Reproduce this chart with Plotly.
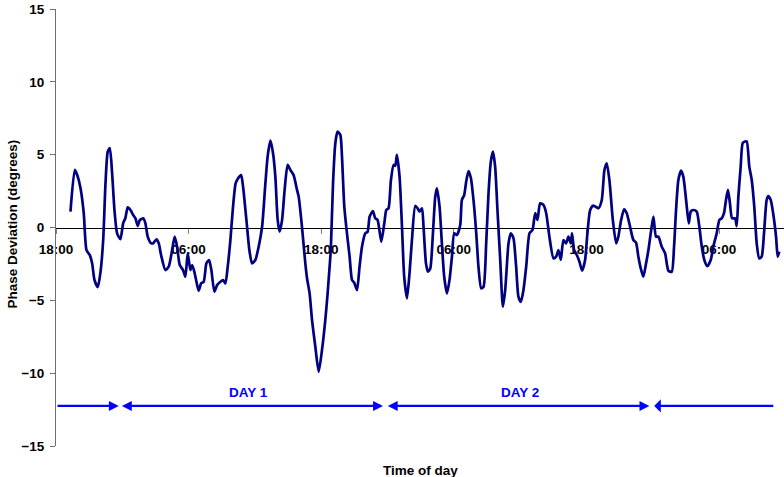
import plotly.graph_objects as go

# Hours elapsed since 18:00 on the evening before day 1
hours = [
    1.31, 1.70, 1.92, 2.22, 2.51, 2.76, 3.06, 3.27, 3.48, 3.78, 4.02, 4.27, 4.48, 4.68, 4.87,
    5.08, 5.29, 5.53, 5.83, 6.08, 6.28, 6.49, 6.74, 6.98, 7.19, 7.40, 7.58, 7.89, 8.09, 8.30,
    8.55, 8.79, 9.09, 9.30, 9.51, 9.90, 10.20, 10.51, 10.74, 10.96, 11.20, 11.50, 11.71, 11.92,
    12.16, 12.32, 12.52, 12.71, 12.91, 13.13, 13.37, 13.61, 13.85, 14.06, 14.33, 14.58, 14.88,
    15.12, 15.33, 15.54, 15.78, 16.02, 16.26, 16.48, 16.75, 16.93, 17.23, 17.50, 17.74, 18.04,
    18.34, 18.65, 18.95, 19.15, 19.40, 19.64, 19.85, 20.06, 20.24, 20.46, 20.69, 20.96, 21.21,
    21.50, 21.81, 21.96, 22.26, 22.56, 22.72, 22.95, 23.17, 23.47, 23.77, 24.07, 24.37, 24.58,
    24.76, 24.87, 25.07, 25.28, 25.48, 25.73, 25.88, 26.09, 26.33, 26.57, 26.79, 26.99, 27.24,
    27.47, 27.69, 27.99, 28.20, 28.38, 28.68, 28.89, 29.10, 29.44, 29.71, 29.89, 30.09, 30.31,
    30.55, 30.70, 30.85, 31.09, 31.31, 31.51, 31.76, 31.99, 32.21, 32.51, 32.72, 32.90, 33.12,
    33.26, 33.48, 33.66, 33.87, 34.11, 34.32, 34.47, 34.71, 34.92, 35.13, 35.38, 35.61, 35.83,
    36.04, 36.28, 36.58, 36.73, 36.94, 37.12, 37.33, 37.55, 37.78, 38.03, 38.23, 38.48, 38.69,
    38.93, 39.14, 39.35, 39.54, 39.74, 39.95, 40.20, 40.44, 40.65, 40.95, 41.16, 41.40, 41.64,
    41.85, 42.07, 42.30, 42.55, 42.85, 43.12, 43.36, 43.57, 43.81, 44.11, 44.36, 44.65, 45.02,
    45.26, 45.47, 45.68, 45.92, 46.16, 46.37, 46.59, 46.70, 46.89, 47.13, 47.37, 47.61, 47.88,
    48.09, 48.34, 48.63, 49.09, 49.39, 49.63, 49.84, 50.08, 50.39, 50.69, 50.89, 51.14, 51.41,
    51.65, 51.95, 52.25, 52.49, 52.70, 52.92, 53.15, 53.40, 53.61, 53.82, 54.06, 54.30, 54.51,
    54.82, 55.12, 55.42, 55.72, 55.93, 56.11, 56.32, 56.56, 56.77, 57.02, 57.26, 57.44, 57.68,
    57.98, 58.22, 58.44, 58.67, 58.94, 59.25, 59.48, 59.79, 60.03, 60.24, 60.45, 60.63, 60.81,
    60.99, 61.18, 61.45, 61.60, 61.75, 61.96, 62.14, 62.35, 62.51, 62.74, 62.96, 63.19, 63.41,
    63.64, 63.86, 64.07, 64.31, 64.46, 64.68, 64.92, 65.16, 65.31, 65.45,
]

# Phase deviation in degrees
phase_deg = [
    1.09, 3.95, 3.60, 2.70, 1.00, -1.55, -1.90, -2.45, -3.60, -4.10, -3.10, -0.86, 3.05, 5.20, 5.45,
    3.70, 1.20, -0.40, -0.80, 0.30, 0.65, 1.39, 1.20, 0.86, 0.63, 0.10, 0.50, 0.63, 0.29, -0.63,
    -1.04, -1.09, -0.81, -1.09, -1.89, -2.92, -2.69, -1.55, -0.63, -1.32, -2.58, -2.92, -3.38, -1.77,
    -2.92, -2.58, -3.04, -3.72, -4.34, -3.84, -3.72, -2.46, -2.23, -2.92, -4.41, -3.95, -3.72,
    -3.61, -3.84, -2.69, -0.86, 1.43, 3.04, 3.38, 3.60, 2.80, 0.52, -1.55, -2.46, -2.23,
    -1.32, 0.05, 3.04, 4.87, 5.97, 5.10, 3.49, 0.52, -0.29, 0.52, 2.58, 4.30, 3.95,
    3.60, 2.58, 2.12, 0.05, -2.45, -3.50, -4.52, -6.36, -8.19, -9.91, -8.42, -6.36, -4.52,
    -2.69, -1.50, 3.04, 5.79, 6.58, 6.36, 4.87, 1.43, -0.40, -2.00, -3.61, -3.79, -4.30,
    -2.69, -1.32, -0.40, -0.29, 0.74, 1.13, 0.63, 0.52, -0.98, 0.29, 1.20, 1.32, 3.26,
    4.30, 4.23, 4.98, 3.49, 0.05, -3.38, -4.87, -3.15, -0.86, 1.48, 1.32, 1.09, 1.32,
    0.05, -2.46, -3.04, -2.81, -0.40, 2.12, 2.69, 1.43, -1.09, -3.38, -4.52, -3.61, -2.00,
    -0.40, -0.52, 0.17, 1.89, 2.23, 3.15, 3.88, 3.38, 1.89, -0.40, -2.69, -4.18, -4.07,
    -1.09, 2.35, 4.52, 5.21, 4.18, 1.20, -2.23, -5.44, -4.30, -1.09, -0.40, -0.74, -2.69,
    -4.76, -5.10, -4.30, -2.69, -0.40, -0.17, 0.98, 0.52, 1.66, 1.55, 0.98, -0.63, -2.12,
    -2.00, -1.55, -2.23, -0.86, -1.09, -0.63, -1.09, -0.40, -1.55, -1.89, -2.35, -2.97, -2.23,
    -0.40, 1.20, 1.50, 1.32, 1.89, 3.95, 4.41, 3.26, 0.52, -1.09, -0.63, 0.52, 1.25,
    0.98, 0.05, -0.86, -1.04, -2.00, -2.81, -3.38, -2.46, -1.55, -0.40, 0.74, -0.63, -0.63,
    -1.32, -1.77, -2.97, -3.04, -1.32, 1.20, 3.26, 3.90, 3.49, 1.89, 0.29, 1.09, 1.20,
    1.09, 0.05, -1.32, -2.23, -2.65, -2.23, -1.32, -0.40, 0.52, 0.63, 0.98, 1.89, 2.58,
    1.66, 0.63, 0.63, 0.10, 2.12, 4.18, 5.79, 5.90, 5.90, 4.18, 3.26, 1.43, -1.09,
    -2.12, -2.00, -0.40, 1.89, 2.16, 1.89, 0.86, -0.63, -2.00, -1.66,
]

# Time-of-day tick marks (every 12 hours)
tick_hours = [0, 12, 24, 36, 48, 60]
tick_labels = ["18:00", "06:00", "18:00", "06:00", "18:00", "06:00"]

# Day marker arrows: (start hour, end hour, which ends carry a head)
day_spans = [(0.0, 5.68, "end"), (5.83, 29.59, "end+start"),
             (29.89, 53.70, "end+start"), (54.0, 64.91, "start")]
day_names = ["DAY 1", "DAY 2"]
day_label_hours = [17.4, 41.96]
arrow_level = -12.25
label_level = -11.35

FONT = "Liberation Sans, Arial, sans-serif"
BLUE = "#0000FF"

fig = go.Figure()
fig.add_trace(go.Scatter(
    x=hours, y=phase_deg, mode="lines",
    line=dict(color="#000080", width=2.7, shape="spline", smoothing=0.6),
    hoverinfo="skip", showlegend=False,
))

annotations = []
for x0, x1, side in day_spans:
    annotations.append(dict(
        x=x1, y=arrow_level, ax=x0, ay=arrow_level,
        xref="x", yref="y", axref="x", ayref="y",
        text="", showarrow=True, arrowside=side,
        arrowhead=2, arrowsize=0.9, arrowwidth=2.2, arrowcolor=BLUE,
        standoff=0, startstandoff=0,
    ))
for name, hx in zip(day_names, day_label_hours):
    annotations.append(dict(
        x=hx, y=label_level, xref="x", yref="y", text=name, showarrow=False,
        font=dict(family=FONT, size=13.5, color=BLUE, weight="bold"),
        xanchor="center", yanchor="middle",
    ))
annotations.append(dict(
    x=0.5, y=-0.055, xref="paper", yref="paper", text="Time of day",
    showarrow=False, xanchor="center", yanchor="middle",
    font=dict(family=FONT, size=13.5, color="black", weight="bold"),
))
annotations.append(dict(
    x=-0.0598, y=0.508, xref="paper", yref="paper", text="Phase Deviation (degrees)",
    showarrow=False, textangle=-90, xanchor="center", yanchor="middle",
    font=dict(family=FONT, size=13.5, color="black", weight="bold"),
))

fig.update_layout(
    width=784, height=477,
    margin=dict(l=56, r=0, t=9, b=31),
    paper_bgcolor="white", plot_bgcolor="white",
    font=dict(family=FONT, color="black"),
    annotations=annotations,
    xaxis=dict(
        range=[0, 65.88], anchor="free", position=0.5,
        tickmode="array", tickvals=tick_hours, ticktext=tick_labels,
        showline=True, linecolor="#000000", linewidth=1,
        ticks="outside", ticklen=5, tickcolor="#808080", tickwidth=1,
        ticklabelstandoff=4,
        tickfont=dict(family=FONT, size=13.5, color="black", weight="bold"),
        showgrid=False, zeroline=False, layer="below traces", fixedrange=True,
    ),
    yaxis=dict(
        range=[-15, 15], tickmode="linear", tick0=-15, dtick=5,
        showline=True, linecolor="#6e6e6e", linewidth=1,
        ticks="outside", ticklen=5, tickcolor="#6e6e6e",
        ticklabelstandoff=3,
        tickfont=dict(family=FONT, size=13.5, color="black", weight="bold"),
        showgrid=False, zeroline=False, fixedrange=True,
    ),
)

fig.write_html("out.html")
